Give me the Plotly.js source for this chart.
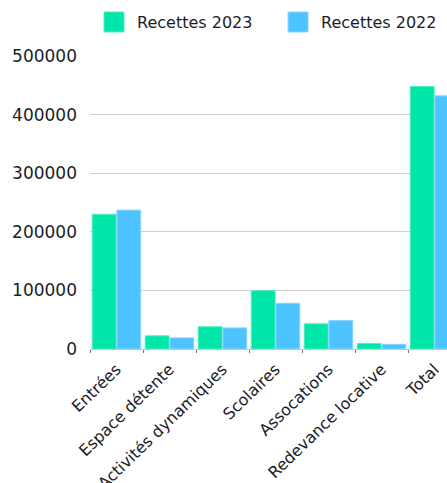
<!DOCTYPE html>
<html>
<head>
<meta charset="utf-8">
<script src="https://cdn.plot.ly/plotly-3.0.1.min.js"></script>
<style>
html,body{margin:0;padding:0;overflow:hidden;background:#fff;}
#chart{width:470px;height:483px;}
</style>
</head>
<body>
<div id="chart"></div>
<script>
const categories = ["Entrées", "Espace détente", "Activités dynamiques", "Scolaires", "Assocations", "Redevance locative", "Total"];
const seriesNames = ["Recettes 2023", "Recettes 2022"];
const recettes2023 = [230000, 22500, 38000, 99500, 43000, 9500, 448000];
const recettes2022 = [237000, 19000, 36000, 78000, 48500, 8000, 432000];
const yTicks = [0, 100000, 200000, 300000, 400000, 500000];
const colors = ["#00E6A8", "#4DC4FF"];
const borderColors = ["#4FEFC2", "#86D8FF"];

const W = 470, H = 483;
const mL = 90, mR = 9, mT = 56, mB = 134;
const plotW = W - mL - mR, plotH = H - mT - mB;
const font = "DejaVu Sans, sans-serif";
const txt = "#1c1c28";

const traces = [recettes2023, recettes2022].map((vals, i) => ({
  type: "bar",
  name: seriesNames[i],
  x: categories,
  y: vals,
  marker: {color: colors[i], line: {color: borderColors[i], width: 1}},
  showlegend: false,
  hoverinfo: "x+y"
}));

// custom legend (large squares)
const px2x = p => (p - mL) / plotW;
const py2y = p => (H - mB - p) / plotH;
const legendItems = [{sq: 104, tx: 135}, {sq: 288, tx: 319}];
const shapes = legendItems.map((it, i) => ({
  type: "rect", xref: "paper", yref: "paper",
  x0: px2x(it.sq), x1: px2x(it.sq + 20),
  y0: py2y(32), y1: py2y(12),
  fillcolor: colors[i], line: {color: borderColors[i], width: 1}
}));
const annotations = legendItems.map((it, i) => ({
  xref: "paper", yref: "paper",
  x: px2x(it.tx), y: py2y(22),
  xanchor: "left", yanchor: "middle",
  text: seriesNames[i], showarrow: false,
  font: {family: font, size: 16, color: txt}
}));

const layout = {
  width: W, height: H,
  margin: {l: mL, r: mR, t: mT, b: mB, autoexpand: false},
  paper_bgcolor: "#fff", plot_bgcolor: "#fff",
  barmode: "group", bargap: 0.07, bargroupgap: 0.03,
  showlegend: false,
  font: {family: font, size: 16, color: txt},
  xaxis: {
    type: "category",
    tickangle: -44,
    ticks: "outside", tickson: "boundaries", ticklen: 3, tickcolor: "#777", tickwidth: 1,
    showline: false, showgrid: false,
    automargin: false,
    ticklabelstandoff: 7,
    tickfont: {family: font, size: 16, color: txt}
  },
  yaxis: {
    range: [0, 500000],
    tickvals: yTicks,
    ticktext: yTicks.map(String),
    showgrid: true, gridcolor: "#cfcfcf", gridwidth: 1,
    zeroline: true, zerolinecolor: "#c8c8c8", zerolinewidth: 1,
    showline: false, ticks: "",
    automargin: false,
    ticklabelstandoff: 12,
    tickfont: {family: font, size: 17, color: txt}
  },
  shapes: shapes,
  annotations: annotations
};

Plotly.newPlot("chart", traces, layout, {displayModeBar: false, staticPlot: true});
</script>
</body>
</html>
